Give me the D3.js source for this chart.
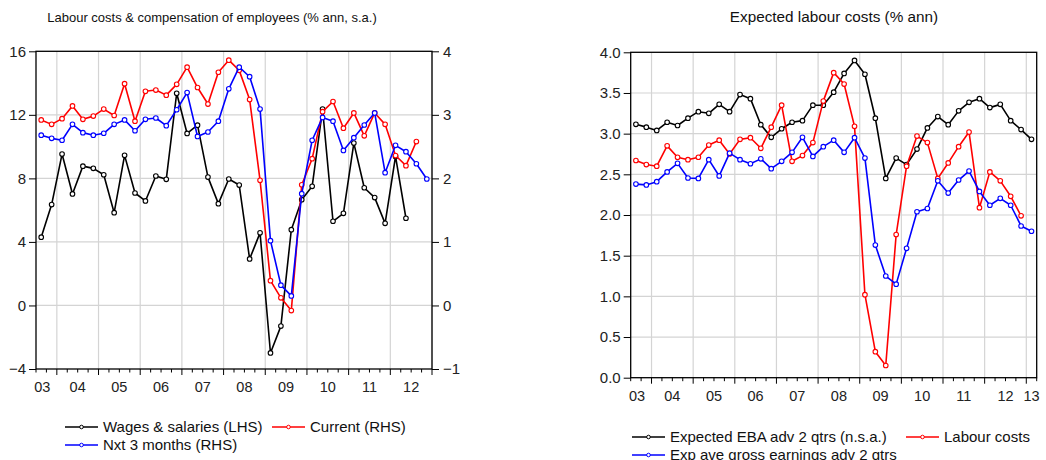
<!DOCTYPE html>
<html>
<head>
<meta charset="utf-8">
<script src="https://cdn.jsdelivr.net/npm/d3@7"></script>
<style>
  body { margin: 0; background: #fff; }
  svg { font-family: "Liberation Sans", Arial, sans-serif; }
  .tick text { fill: #222; font-size: 15px; }
</style>
</head>
<body>
<svg id="chart" width="1046" height="460"></svg>
<script>
'use strict';

// quarters, plotted at the middle of each quarter
const quarters = ["2003Q3","2003Q4","2004Q1","2004Q2","2004Q3","2004Q4","2005Q1","2005Q2","2005Q3","2005Q4",
  "2006Q1","2006Q2","2006Q3","2006Q4","2007Q1","2007Q2","2007Q3","2007Q4","2008Q1","2008Q2",
  "2008Q3","2008Q4","2009Q1","2009Q2","2009Q3","2009Q4","2010Q1","2010Q2","2010Q3","2010Q4",
  "2011Q1","2011Q2","2011Q3","2011Q4","2012Q1","2012Q2","2012Q3","2012Q4","2013Q1"];

// left panel
const wages = [4.3,6.35,9.53,7.02,8.77,8.63,8.23,5.84,9.45,7.08,
  6.58,8.15,7.94,13.36,10.83,11.35,8.08,6.41,7.96,7.58,
  2.93,4.57,-2.99,-1.3,4.77,6.66,7.5,12.36,5.3,5.8,
  10.22,7.41,6.79,5.17,9.38,5.49];
const current = [2.92,2.85,2.94,3.14,2.93,2.98,3.09,2.99,3.49,2.9,
  3.37,3.39,3.31,3.48,3.75,3.43,3.17,3.67,3.86,3.70,
  3.24,1.97,0.39,0.12,-0.08,1.9,2.31,3.05,3.21,2.79,
  3.03,2.67,3.03,2.85,2.36,2.20,2.58];
const next3 = [2.68,2.63,2.60,2.85,2.72,2.68,2.71,2.85,2.92,2.75,
  2.93,2.95,2.83,3.08,3.35,2.66,2.73,2.90,3.41,3.75,
  3.60,3.09,1.02,0.32,0.15,1.76,2.60,2.96,2.90,2.44,
  2.64,2.84,3.03,2.09,2.52,2.42,2.23,1.99];
const leftYears = ["03","04","05","06","07","08","09","10","11","12"];
const lhsTicks = [-4,0,4,8,12,16];
const rhsTicks = [-1,0,1,2,3,4];

// right panel
const eba = [3.115,3.08,3.04,3.14,3.10,3.19,3.27,3.25,3.36,3.27,
  3.48,3.43,3.11,2.955,3.06,3.14,3.16,3.35,3.35,3.51,
  3.74,3.90,3.73,3.19,2.45,2.70,2.62,2.81,3.07,3.21,
  3.11,3.28,3.385,3.43,3.32,3.36,3.16,3.05,2.93];
const labourCosts = [2.67,2.62,2.60,2.85,2.71,2.68,2.71,2.86,2.92,2.75,
  2.93,2.95,2.82,3.08,3.35,2.66,2.73,2.89,3.40,3.75,
  3.61,3.09,1.02,0.32,0.15,1.76,2.60,2.97,2.89,2.45,
  2.64,2.84,3.02,2.09,2.53,2.42,2.23,1.99];
const earnings = [2.38,2.37,2.41,2.53,2.635,2.455,2.45,2.68,2.48,2.76,
  2.68,2.63,2.69,2.57,2.66,2.77,2.955,2.72,2.84,2.92,
  2.77,2.95,2.70,1.63,1.25,1.15,1.59,2.04,2.08,2.42,
  2.27,2.43,2.54,2.29,2.12,2.205,2.12,1.865,1.80];
const rightYears = ["03","04","05","06","07","08","09","10","11","12","13"];
const rightTicks = [0,0.5,1,1.5,2,2.5,3,3.5,4];

const svg = d3.select("#chart");
const gridColor = "#d4d4d4";

const qTime = q => +q.slice(0, 4) + (+q.slice(5) - 1) / 4 + 0.125;

function panel(opts) {
  const g = svg.append("g");
  const x = d3.scaleLinear().domain(opts.xDomain).range([opts.left, opts.right]);
  const y = d3.scaleLinear().domain(opts.yDomain).range([opts.bottom, opts.top]);

  // gridlines
  const firstYear = Math.ceil(opts.xDomain[0]);
  const yearStarts = d3.range(firstYear, opts.xDomain[1] + 0.001, 1);
  g.append("g").selectAll("line").data(yearStarts).join("line")
    .attr("x1", d => x(d)).attr("x2", d => x(d))
    .attr("y1", opts.top).attr("y2", opts.bottom)
    .attr("stroke", gridColor).attr("stroke-width", 1.2);
  g.append("g").selectAll("line").data(opts.yTicks.slice(1, -1)).join("line")
    .attr("x1", opts.left).attr("x2", opts.right)
    .attr("y1", d => y(d)).attr("y2", d => y(d))
    .attr("stroke", gridColor).attr("stroke-width", 1.2);

  // frame
  g.append("rect")
    .attr("x", opts.left).attr("y", opts.top)
    .attr("width", opts.right - opts.left).attr("height", opts.bottom - opts.top)
    .attr("fill", "none").attr("stroke", "#000").attr("stroke-width", 1.3);

  // left axis
  g.append("g")
    .attr("transform", `translate(${opts.left},0)`)
    .call(d3.axisLeft(y).tickValues(opts.yTicks).tickFormat(opts.yFormat).tickSize(7).tickSizeOuter(0))
    .call(a => a.select(".domain").remove())
    .call(a => a.selectAll(".tick line").attr("stroke", "#000"))
    .call(a => a.selectAll(".tick text").attr("x", -10));

  // right axis (left panel only)
  if (opts.y2) {
    g.append("g")
      .attr("transform", `translate(${opts.right},0)`)
      .call(d3.axisRight(opts.y2).tickValues(opts.y2Ticks).tickFormat(d3.format("d")).tickSize(7).tickSizeOuter(0))
      .call(a => a.select(".domain").remove())
      .call(a => a.selectAll(".tick line").attr("stroke", "#000"))
      .call(a => a.selectAll(".tick text").attr("x", 11));
  }

  // x axis: quarter ticks, year ticks longer
  const qTicks = d3.range(opts.xDomain[0], opts.xDomain[1] + 0.001, 0.25);
  g.append("g").selectAll("line").data(qTicks).join("line")
    .attr("x1", d => x(d)).attr("x2", d => x(d))
    .attr("y1", opts.bottom)
    .attr("y2", d => opts.bottom + (Math.abs(d - Math.round(d)) < 0.01 ? 6 : 3.5))
    .attr("stroke", "#000").attr("stroke-width", 1);
  g.append("g").selectAll("text").data(opts.yearLabels).join("text")
    .attr("x", (d, i) => {
      const yr = firstYear - 1 + i;
      const pos = Math.min(Math.max(yr + 0.5, opts.xDomain[0] + 0.15), opts.xDomain[1] - 0.125);
      return x(pos);
    })
    .attr("y", opts.bottom + 23)
    .attr("text-anchor", "middle")
    .attr("fill", "#222").style("font-size", "14.5px")
    .text(d => d);

  // title
  svg.append("text")
    .attr("x", opts.titleX).attr("y", 22)
    .attr("text-anchor", "middle")
    .attr("fill", "#111").style("font-size", opts.titleSize)
    .text(opts.title);

  // series
  opts.series.forEach(s => {
    const pts = s.values.map((v, i) => ({t: qTime(quarters[i]), v}));
    const ys = s.scale || y;
    const line = d3.line().x(d => x(d.t)).y(d => ys(d.v));
    g.append("path").datum(pts)
      .attr("d", line).attr("fill", "none")
      .attr("stroke", s.color).attr("stroke-width", 1.6)
      .attr("stroke-linejoin", "round");
    g.append("g").selectAll("circle").data(pts).join("circle")
      .attr("cx", d => x(d.t)).attr("cy", d => ys(d.v)).attr("r", 2.3)
      .attr("fill", "#fff").attr("stroke", s.color).attr("stroke-width", 1.1);
  });

  // legend
  opts.legend.forEach(item => {
    const lg = svg.append("g");
    lg.append("line")
      .attr("x1", item.x).attr("x2", item.x + 33)
      .attr("y1", item.y).attr("y2", item.y)
      .attr("stroke", item.color).attr("stroke-width", 1.6);
    lg.append("circle")
      .attr("cx", item.x + 16.5).attr("cy", item.y).attr("r", 1.8)
      .attr("fill", "#fff").attr("stroke", item.color).attr("stroke-width", 1);
    lg.append("text")
      .attr("x", item.x + 38).attr("y", item.y + 5)
      .attr("fill", "#111").style("font-size", "15px")
      .text(item.label);
  });
}

// left panel: LHS wages, RHS balances
const rhsScale = d3.scaleLinear().domain([-1, 4]).range([369, 51.3]);
panel({
  left: 36, right: 432, top: 51.3, bottom: 369,
  xDomain: [2003.5, 2013.0], yDomain: [-4, 16],
  yTicks: lhsTicks, yFormat: d3.format("d"),
  y2: rhsScale, y2Ticks: rhsTicks,
  yearLabels: leftYears,
  title: "Labour costs & compensation of employees (% ann, s.a.)", titleX: 212, titleSize: "13px",
  series: [
    {values: wages, color: "#000"},
    {values: current, color: "#ff0000", scale: rhsScale},
    {values: next3, color: "#0000ff", scale: rhsScale}
  ],
  legend: [
    {x: 65, y: 427, color: "#000", label: "Wages & salaries (LHS)"},
    {x: 272, y: 427, color: "#ff0000", label: "Current (RHS)"},
    {x: 65, y: 445, color: "#0000ff", label: "Nxt 3 months (RHS)"}
  ]
});

// right panel
panel({
  left: 630.7, right: 1036.7, top: 52.3, bottom: 377.7,
  xDomain: [2003.5, 2013.25], yDomain: [0, 4],
  yTicks: rightTicks, yFormat: d3.format(".1f"),
  yearLabels: rightYears,
  title: "Expected labour costs (% ann)", titleX: 834, titleSize: "15.3px",
  series: [
    {values: eba, color: "#000"},
    {values: labourCosts, color: "#ff0000"},
    {values: earnings, color: "#0000ff"}
  ],
  legend: [
    {x: 632, y: 437, color: "#000", label: "Expected EBA adv 2 qtrs (n.s.a.)"},
    {x: 906, y: 437, color: "#ff0000", label: "Labour costs"},
    {x: 632, y: 455, color: "#0000ff", label: "Exp ave gross earnings adv 2 qtrs"}
  ]
});
</script>
</body>
</html>
